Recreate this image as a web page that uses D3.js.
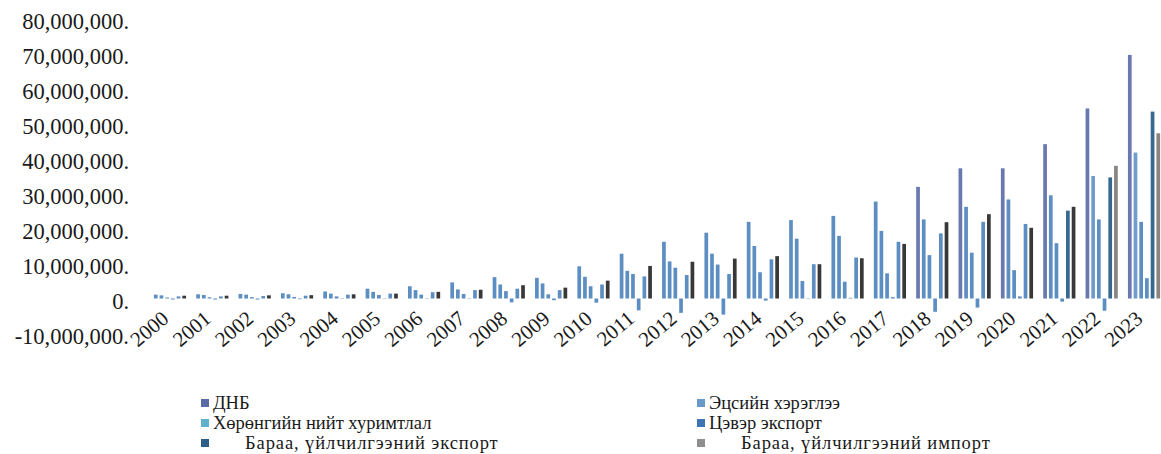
<!DOCTYPE html>
<html>
<head>
<meta charset="utf-8">
<script src="https://cdn.jsdelivr.net/npm/d3@7"></script>
<style>
  body { margin: 0; background: #fff; }
  svg text { font-family: "Liberation Serif", "Times New Roman", serif; fill: #1a1a1a; }
</style>
</head>
<body>
<div id="chart"></div>
<script>
const years = ["2000","2001","2002","2003","2004","2005","2006","2007","2008","2009","2010","2011",
  "2012","2013","2014","2015","2016","2017","2018","2019","2020","2021","2022","2023"];

// values, same units as the y axis
const gdp = [1100000,1200000,1300000,1500000,2000000,2800000,3500000,4600000,6100000,5900000,9200000,12800000,
  16200000,18800000,21900000,22400000,23600000,27700000,31900000,37200000,37200000,44100000,54300000,69600000];
const consumption = [900000,1000000,1100000,1200000,1400000,1900000,2400000,2600000,4000000,4300000,6200000,7900000,
  10600000,12800000,15000000,17100000,17900000,19300000,22600000,26200000,28300000,29500000,35000000,41700000];
const capitalFormation = [300000,350000,400000,450000,600000,1000000,1100000,1300000,2100000,1200000,3500000,7000000,
  8800000,9700000,7500000,5000000,4800000,7200000,12400000,13100000,8100000,15800000,22600000,21900000];
const netExport = [-300000,-300000,-300000,-200000,-100000,100000,100000,100000,-1100000,-500000,-1200000,-3400000,
  -4100000,-4600000,-600000,100000,200000,400000,-3800000,-2600000,600000,-900000,-3500000,5800000];
const exportsGS = [600000,600000,700000,800000,1100000,1400000,1800000,2400000,2800000,2400000,4000000,6300000,
  6700000,7000000,11200000,9800000,11700000,16200000,18600000,21900000,21300000,25100000,34600000,53400000];
const importsGS = [800000,800000,900000,950000,1200000,1400000,1900000,2500000,3800000,3100000,5100000,9300000,
  10500000,11400000,12100000,9800000,11500000,15600000,21800000,24100000,20200000,26200000,37900000,47200000];

const seriesNames = ["ДНБ", "Эцсийн хэрэглээ", "Хөрөнгийн нийт хуримтлал", "Цэвэр экспорт",
  "Бараа, үйлчилгээний экспорт", "Бараа, үйлчилгээний импорт"];
const seriesValues = [gdp, consumption, capitalFormation, netExport, exportsGS, importsGS];
const yTicks = [-10000000, 0, 10000000, 20000000, 30000000, 40000000, 50000000, 60000000, 70000000, 80000000];

const width = 1161, height = 454;
const serif = "'Liberation Serif', 'Times New Roman', serif";

const svg = d3.select("#chart")
  .append("svg")
  .attr("width", width)
  .attr("height", height);

const rows = years.map((y, i) => {
  const r = { year: y };
  seriesNames.forEach((s, k) => { r[s] = seriesValues[k][i]; });
  return r;
});

const x0 = d3.scaleBand()
  .domain(years)
  .range([148.8, 1165.2])
  .paddingInner(0.24)
  .paddingOuter(0.12);

const x1 = d3.scaleBand()
  .domain(seriesNames)
  .range([0, x0.bandwidth()])
  .paddingInner(0.35);

const y = d3.scaleLinear()
  .domain([-10000000, 80000000])
  .range([333.5, 18.5]);

// colours as they appear in the plot (legend swatches differ a little)
const legendColor = d3.scaleOrdinal()
  .domain(seriesNames)
  .range(["#5b69a6", "#6a98c7", "#5fb1cc", "#3f74b2", "#2c5f88", "#8e8e8e"]);

function barColor(name, year) {
  const yr = +year;
  if (name === seriesNames[0]) return yr >= 2018 ? "#6a78b0" : "#5d8ec2";
  if (name === seriesNames[4]) return yr >= 2021 ? "#35698f" : "#5d8ec2";
  if (name === seriesNames[5]) return yr >= 2022 ? "#8a8580" : "#383838";
  if (name === seriesNames[1] && yr >= 2022) return "#6f9dcc";
  return "#5d8ec2";
}

// Y axis
const yAxis = svg.append("g")
  .attr("transform", "translate(129,0)")
  .call(d3.axisLeft(y)
    .tickValues(yTicks)
    .tickSize(0)
    .tickPadding(0)
    .tickFormat(d => d === 0 ? "0." : d3.format(",")(d).replace("−", "-") + "."));
yAxis.select(".domain").remove();
yAxis.selectAll("text")
  .attr("dy", "0.45em")
  .style("font-size", "22.5px")
  .style("font-family", serif)
  .style("fill", "#1a1a1a");

// Bars
const groups = svg.append("g")
  .selectAll("g")
  .data(rows)
  .join("g")
  .attr("transform", d => `translate(${x0(d.year)},0)`);

groups.selectAll("rect")
  .data(d => seriesNames.map(s => ({ key: s, year: d.year, value: d[s] })))
  .join("rect")
  .attr("x", d => x1(d.key))
  .attr("width", x1.bandwidth())
  .attr("y", d => y(Math.max(0, d.value)))
  .attr("height", d => Math.abs(y(d.value) - y(0)))
  .attr("fill", d => barColor(d.key, d.year));

// X axis labels
const xAxis = svg.append("g")
  .attr("transform", "translate(-4,316)")
  .call(d3.axisBottom(x0).tickSize(0).tickPadding(0));
xAxis.select(".domain").remove();
xAxis.selectAll("text")
  .attr("x", 0)
  .attr("y", 0)
  .attr("dy", "0.3em")
  .attr("text-anchor", "end")
  .attr("transform", "rotate(-40)")
  .style("font-size", "21px")
  .style("font-family", serif)
  .style("fill", "#1a1a1a");

// Legend
const legend = svg.append("g");
const legendCols = [201, 697];
const legendRows = [403, 423, 443];

seriesNames.forEach((name, i) => {
  const col = i % 2, row = Math.floor(i / 2);
  const g = legend.append("g")
    .attr("transform", `translate(${legendCols[col]},${legendRows[row]})`);

  g.append("rect")
    .attr("x", 0)
    .attr("y", -4)
    .attr("width", 8)
    .attr("height", 8)
    .attr("fill", legendColor(name));

  g.append("text")
    .attr("x", row === 2 ? 44 : 12)
    .attr("y", 0)
    .attr("dy", "0.35em")
    .style("font-size", "18.5px")
    .style("letter-spacing", row === 2 ? "0.9px" : "0px")
    .style("font-family", serif)
    .text(name);
});
</script>
</body>
</html>
